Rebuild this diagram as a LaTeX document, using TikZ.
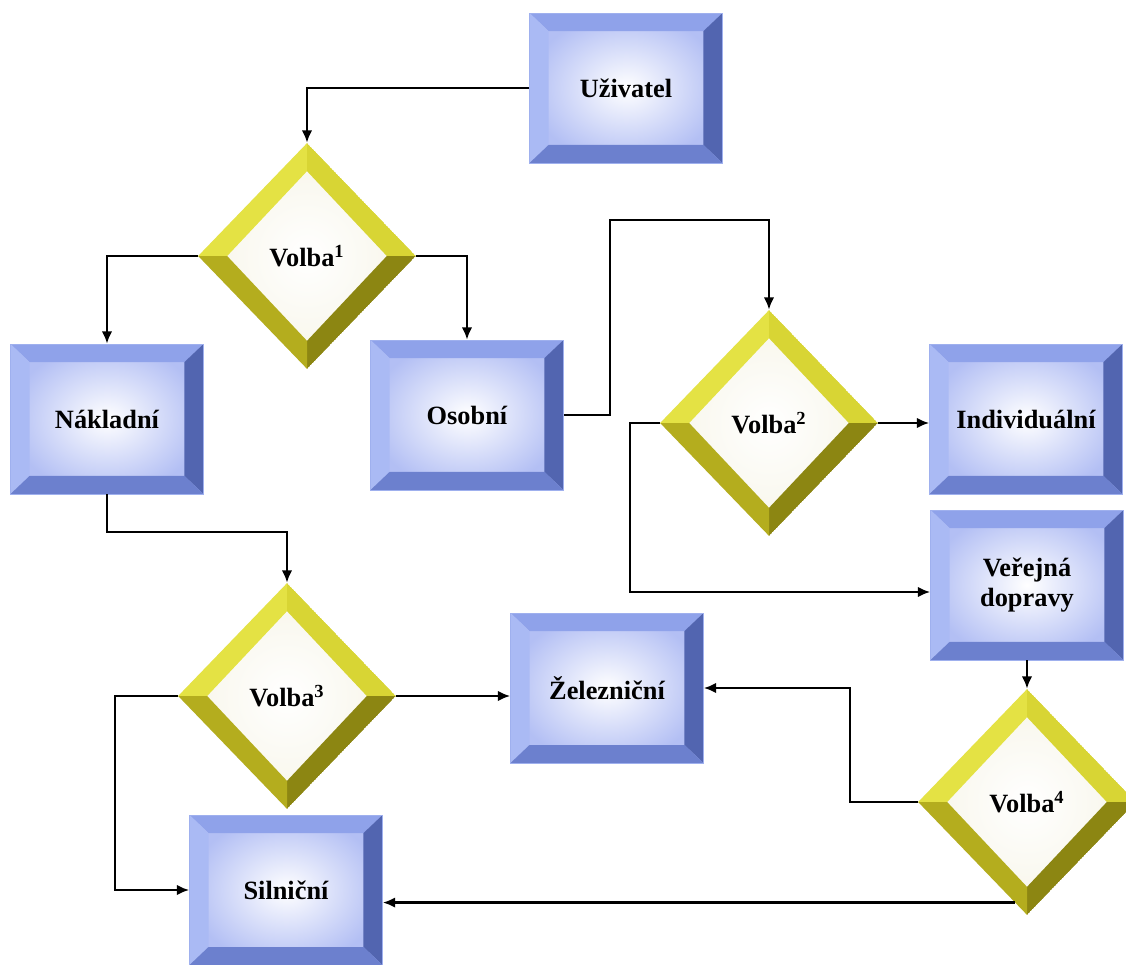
\documentclass[tikz,border=0pt]{standalone}
\usepackage{fontspec}
\setmainfont{Liberation Serif}
\usepackage{tikz}
\usetikzlibrary{arrows.meta,shapes.geometric}

\definecolor{bvtop}{HTML}{8FA2EA}
\definecolor{bvleft}{HTML}{AABAF4}
\definecolor{bvright}{HTML}{5265B0}
\definecolor{bvbottom}{HTML}{6C80CE}
\definecolor{boxface}{HTML}{B3BFF4}
\definecolor{boxedge}{HTML}{9FB0EE}
\definecolor{dmtl}{HTML}{E4E244}
\definecolor{dmtr}{HTML}{D8D534}
\definecolor{dmbl}{HTML}{B4AD1E}
\definecolor{dmbr}{HTML}{8C8612}
\definecolor{dmface}{HTML}{F7F5E8}

\begin{document}
\begin{tikzpicture}[x=0.02cm, y=-0.02cm,
    lbl/.style={font=\fontsize{15}{17}\selectfont\bfseries, align=center},
    box/.style={lbl, rectangle, minimum width=3.86cm, minimum height=3cm, inner sep=0pt,
        draw=boxedge, line width=0.4pt, inner color=white, outer color=boxface,
        path picture={
            \coordinate (nw) at (path picture bounding box.north west);
            \coordinate (ne) at (path picture bounding box.north east);
            \coordinate (sw) at (path picture bounding box.south west);
            \coordinate (se) at (path picture bounding box.south east);
            \fill[bvtop] (nw) -- (ne) -- ([shift={(-0.38cm,-0.36cm)}]ne) -- ([shift={(0.38cm,-0.36cm)}]nw) -- cycle;
            \fill[bvleft] (nw) -- (sw) -- ([shift={(0.38cm,0.36cm)}]sw) -- ([shift={(0.38cm,-0.36cm)}]nw) -- cycle;
            \fill[bvright] (ne) -- (se) -- ([shift={(-0.38cm,0.36cm)}]se) -- ([shift={(-0.38cm,-0.36cm)}]ne) -- cycle;
            \fill[bvbottom] (sw) -- (se) -- ([shift={(-0.38cm,0.36cm)}]se) -- ([shift={(0.38cm,0.36cm)}]sw) -- cycle;
        }},
    choice/.style={lbl, diamond, minimum width=4.36cm, minimum height=4.52cm, inner sep=0pt,
        inner color=white, outer color=dmface,
        path picture={
            \coordinate (w) at (path picture bounding box.west);
            \coordinate (n) at (path picture bounding box.north);
            \coordinate (e) at (path picture bounding box.east);
            \coordinate (s) at (path picture bounding box.south);
            \fill[dmtl] (w) -- (n) -- ([yshift=-0.56cm]n) -- ([xshift=0.58cm]w) -- cycle;
            \fill[dmtr] (n) -- (e) -- ([xshift=-0.58cm]e) -- ([yshift=-0.56cm]n) -- cycle;
            \fill[dmbr] (e) -- (s) -- ([yshift=0.56cm]s) -- ([xshift=-0.58cm]e) -- cycle;
            \fill[dmbl] (s) -- (w) -- ([xshift=0.58cm]w) -- ([yshift=0.56cm]s) -- cycle;
        }},
    arr/.style={-{Latex[length=7pt,width=6pt]}, line width=1.3pt}]

    \useasboundingbox (0,0) rectangle (1126,964);

    % boxes
    \node[box] (uz) at (626, 88) {Uživatel};
    \node[box] (nak) at (107, 419) {Nákladní};
    \node[box] (os) at (467, 415) {Osobní};
    \node[box] (ind) at (1026, 419) {Individuální};
    \node[box] (ver) at (1027, 585) {Veřejná\\dopravy};
    \node[box] (zel) at (607, 688) {Železniční};
    \node[box] (sil) at (286, 890) {Silniční};

    % choices
    \node[choice] (v1) at (307, 256) {Volba\textsuperscript{1}};
    \node[choice] (v2) at (769, 423) {Volba\textsuperscript{2}};
    \node[choice] (v3) at (287, 696) {Volba\textsuperscript{3}};
    \node[choice] (v4) at (1027, 802) {Volba\textsuperscript{4}};

    % bends
    \coordinate (j1) at (610, 220);
    \coordinate (j2) at (630, 592);
    \coordinate (j3) at (107, 532);
    \coordinate (j4) at (115, 696);
    \coordinate (j5) at (850, 802);

    \draw[arr] (uz.west) -| (v1.north);
    \draw[arr] (v1.west) -| (nak.north);
    \draw[arr] (v1.east) -| (os.north);
    \draw[arr] (os.east) -| (j1) -| (v2.north);
    \draw[arr] (v2.east) -- (v2.east -| ind.west);
    \draw[arr] (v2.west) -| (j2) -- (j2 -| ver.west);
    \draw[arr] (nak.south) -- (j3) -| (v3.north);
    \draw[arr] (v3.east) -- (v3.east -| zel.west);
    \draw[arr] (v3.west) -- (j4) |- (sil.west);
    \draw[arr] (ver.south) -- (v4.north);
    \draw[arr] (v4.west) -- (j5) |- (zel.east);
    \draw[arr] (v4.263) -- (v4.263 -| sil.east);
\end{tikzpicture}
\end{document}
